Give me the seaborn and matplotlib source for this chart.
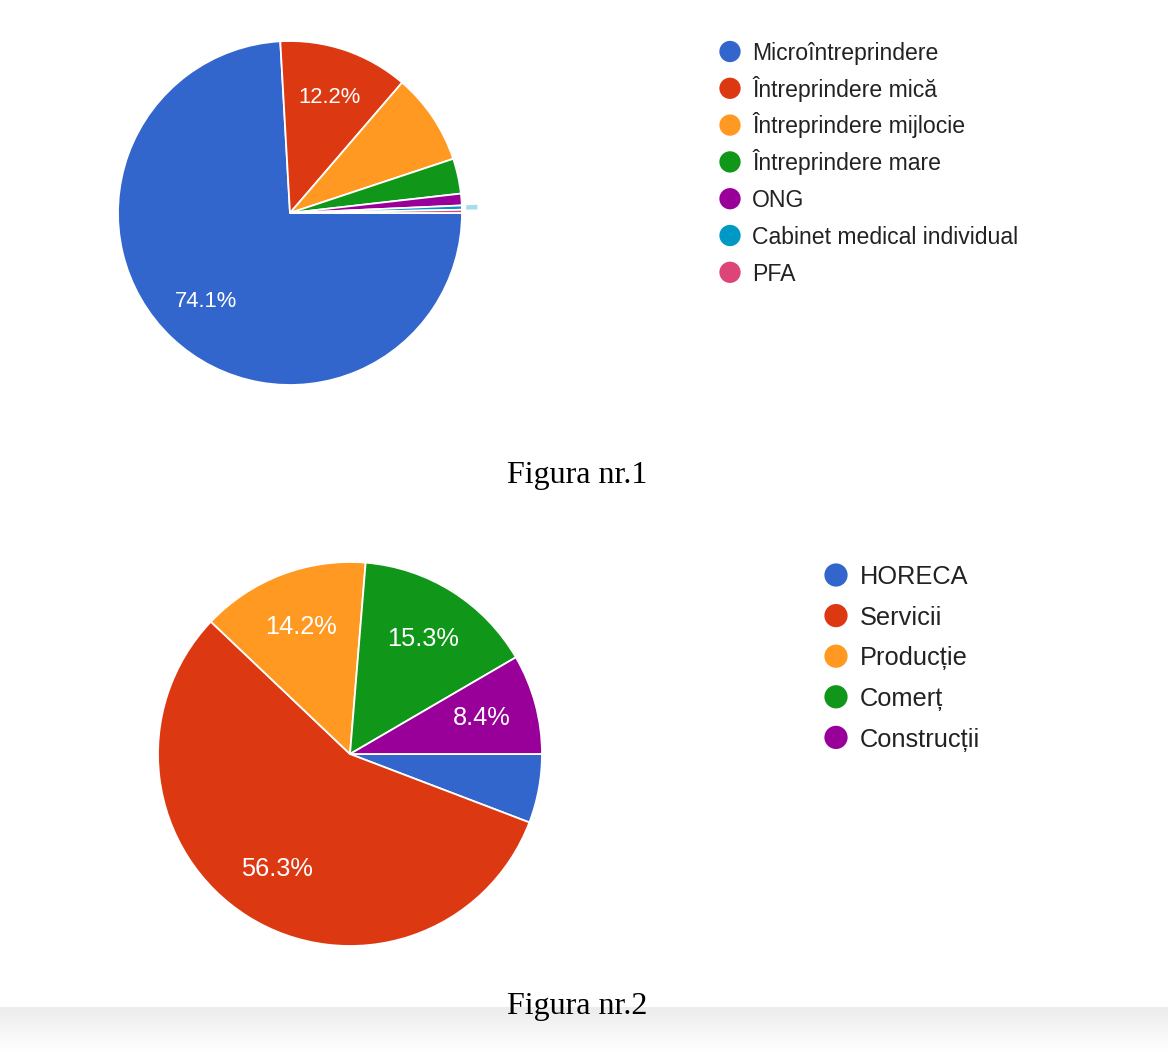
import numpy as np
import matplotlib
matplotlib.use("Agg")
import matplotlib.pyplot as plt
import seaborn as sns

# ---- data ----
cats1 = ["Microîntreprindere", "Întreprindere mică", "Întreprindere mijlocie",
         "Întreprindere mare", "ONG", "Cabinet medical individual", "PFA"]
vals1 = [74.1, 12.2, 8.6, 3.3, 1.1, 0.4, 0.3]
shown1 = [True, True, False, False, False, False, False]

cats2 = ["HORECA", "Servicii", "Producție", "Comerț", "Construcții"]
vals2 = [5.8, 56.3, 14.2, 15.3, 8.4]
shown2 = [False, True, True, True, True]

captions = ["Figura nr.1", "Figura nr.2"]

colors = ["#3366CC", "#DC3912", "#FF9922", "#109618", "#990099", "#0099C6", "#DD4477"]

sns.set_theme(style="white")
plt.rcParams["font.family"] = ["Liberation Sans", "DejaVu Sans"]

W, H = 1168, 1052
fig = plt.figure(figsize=(W / 100, H / 100), dpi=100)
fig.patch.set_facecolor("white")


def box(cx, cy, r):
    return [(cx - r) / W, 1 - (cy + r) / H, 2 * r / W, 2 * r / H]


def draw_pie(ax, vals, shown, fs):
    labels = [f"{v:.1f}%" if s else "" for v, s in zip(vals, shown)]
    wedges, _ = ax.pie(
        vals, colors=colors[:len(vals)], startangle=0, counterclock=False,
        wedgeprops=dict(edgecolor="white", linewidth=1.3))
    for w, lab in zip(wedges, labels):
        if not lab:
            continue
        ang = np.deg2rad((w.theta1 + w.theta2) / 2)
        ax.text(0.71 * np.cos(ang), 0.71 * np.sin(ang), lab, ha="center",
                va="center", color="white", fontsize=fs)
    return wedges


def finish(ax):
    ax.set_xlim(-1, 1)
    ax.set_ylim(-1, 1)
    ax.set_aspect("equal")
    ax.axis("off")


# Pie 1
ax1 = fig.add_axes(box(290, 213, 172))
w1 = draw_pie(ax1, vals1, shown1, 15.8)
# highlight ring around the "Cabinet medical individual" slice
hl_colors = ["none"] * len(vals1)
hl_colors[5] = "#A8DCEB"
ring, _ = ax1.pie(vals1, colors=hl_colors, startangle=0, counterclock=False,
                  radius=1.09, wedgeprops=dict(width=0.065, edgecolor="none"))
for r in ring:
    r.set_clip_on(False)
finish(ax1)

# Pie 2
ax2 = fig.add_axes(box(350, 754, 192))
w2 = draw_pie(ax2, vals2, shown2, 18.3)
finish(ax2)

# legends (drawn in a pixel-coordinate overlay)
lax = fig.add_axes([0, 0, 1, 1], zorder=5)
lax.set_xlim(0, W)
lax.set_ylim(H, 0)
lax.axis("off")


def legend(cats, x_marker, y_first, step, fs, msize, text_dx):
    ys = [y_first + i * step for i in range(len(cats))]
    lax.scatter([x_marker] * len(cats), ys, s=msize, c=colors[:len(cats)],
                linewidths=0)
    fs_px = fs * 100 / 72
    for y, c in zip(ys, cats):
        lax.text(x_marker + text_dx, y + 0.36 * fs_px, c, ha="left", va="baseline",
                 fontsize=fs, color="#222222")


legend(cats1, 730, 51.5, 36.8, 16.6, 235, 22)
legend(cats2, 836, 575, 40.6, 18.3, 280, 24)

# captions
for txt, y in zip(captions, [483, 1014]):
    lax.text(577, y, txt, ha="center", va="baseline",
             fontsize=23, family="Liberation Serif", color="black")

# bottom shading of the original screenshot
grad = fig.add_axes([0, 0, 1, 45 / H], zorder=-1)
g = np.linspace(1.0, 0.0, 50).reshape(-1, 1)
grad.imshow(g, aspect="auto", cmap=sns.blend_palette(["#ffffff", "#ececec"], as_cmap=True),
            extent=[0, 1, 0, 1], vmin=0, vmax=1)
grad.axis("off")

fig.savefig("out.png", dpi=100, facecolor="white")
